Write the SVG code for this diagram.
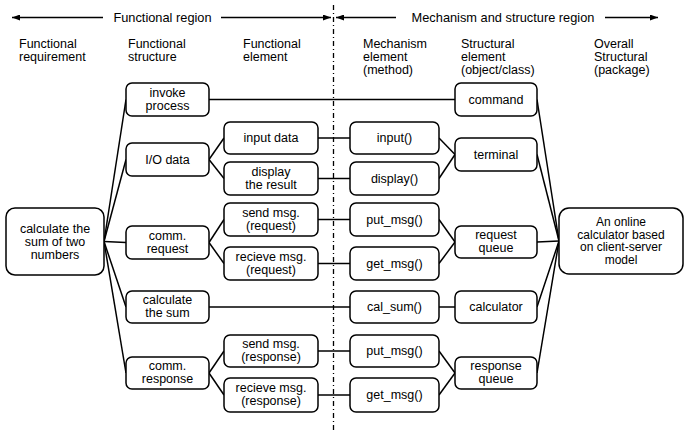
<svg xmlns="http://www.w3.org/2000/svg" width="686" height="432" viewBox="0 0 686 432">
<defs>
<marker id="ah" viewBox="0 0 8 6" refX="8" refY="3" markerWidth="8" markerHeight="6" markerUnits="userSpaceOnUse" orient="auto">
<path d="M0,0 L8,3 L0,6 Z" fill="#000"/>
</marker>
<style>
text{font-family:"Liberation Sans",Arial,sans-serif;font-size:12.5px;fill:#000}
.c{text-anchor:middle}
.n rect{fill:#fff;stroke:#000;stroke-width:1.5}
.l{stroke:#000;stroke-width:1.5;fill:none}
.hd{stroke:#000;stroke-width:1.5;fill:none}
.on{font-size:12px}
</style>
</defs>
<rect width="686" height="432" fill="#fff"/>

<!-- region arrows and separator -->
<g id="regions">
<line class="hd" x1="103" y1="17.5" x2="12" y2="17.5" marker-end="url(#ah)"/>
<line class="hd" x1="221" y1="17.5" x2="331" y2="17.5" marker-end="url(#ah)"/>
<line class="hd" x1="396" y1="17.5" x2="336" y2="17.5" marker-end="url(#ah)"/>
<line class="hd" x1="605" y1="17.5" x2="658" y2="17.5" marker-end="url(#ah)"/>
<text class="c" x="162.5" y="22" style="font-size:12.8px">Functional region</text>
<text class="c" x="503" y="22" style="font-size:12.8px">Mechanism and structure region</text>
<line x1="333.5" y1="5" x2="333.5" y2="432" stroke="#000" stroke-width="1.3" stroke-dasharray="5,3,1,3"/>
</g>

<!-- headers -->
<g id="headers">
<text x="19" y="48">Functional<tspan x="19" dy="13">requirement</tspan></text>
<text x="128" y="48">Functional<tspan x="128" dy="13">structure</tspan></text>
<text x="243" y="48">Functional<tspan x="243" dy="13">element</tspan></text>
<text x="363" y="48">Mechanism<tspan x="363" dy="13">element</tspan><tspan x="363" dy="13">(method)</tspan></text>
<text x="461" y="48">Structural<tspan x="461" dy="13">element</tspan><tspan x="461" dy="13">(object/class)</tspan></text>
<text x="594" y="48">Overall<tspan x="594" dy="13">Structural</tspan><tspan x="594" dy="13">(package)</tspan></text>
</g>

<!-- connectors -->
<g id="connectors" class="l">
<line x1="104" y1="241.5" x2="126" y2="99.5"/>
<line x1="104" y1="241.5" x2="126" y2="159.5"/>
<line x1="104" y1="241.5" x2="126" y2="242.5"/>
<line x1="104" y1="241.5" x2="126" y2="307"/>
<line x1="104" y1="241.5" x2="126" y2="373"/>
<line x1="209" y1="99.5" x2="455" y2="99.5"/>
<line x1="209" y1="159.5" x2="224" y2="138"/>
<line x1="209" y1="159.5" x2="224" y2="178.5"/>
<line x1="209" y1="242.5" x2="224" y2="219.5"/>
<line x1="209" y1="242.5" x2="224" y2="263.5"/>
<line x1="209" y1="307" x2="350" y2="307"/>
<line x1="209" y1="373" x2="224" y2="351"/>
<line x1="209" y1="373" x2="224" y2="395"/>
<line x1="318" y1="138" x2="350" y2="138"/>
<line x1="318" y1="178.5" x2="350" y2="178.5"/>
<line x1="318" y1="219.5" x2="350" y2="219.5"/>
<line x1="318" y1="263.5" x2="350" y2="263.5"/>
<line x1="318" y1="351" x2="350" y2="351"/>
<line x1="318" y1="395" x2="350" y2="395"/>
<line x1="439" y1="138" x2="455" y2="154.5"/>
<line x1="439" y1="178.5" x2="455" y2="154.5"/>
<line x1="439" y1="219.5" x2="455" y2="242"/>
<line x1="439" y1="263.5" x2="455" y2="242"/>
<line x1="439" y1="307" x2="455" y2="307"/>
<line x1="439" y1="351" x2="455" y2="373"/>
<line x1="439" y1="395" x2="455" y2="373"/>
<line x1="537" y1="99.5" x2="559" y2="241"/>
<line x1="537" y1="154.5" x2="559" y2="241"/>
<line x1="537" y1="242" x2="559" y2="241"/>
<line x1="537" y1="307" x2="559" y2="241"/>
<line x1="537" y1="373" x2="559" y2="241"/>
</g>

<!-- nodes -->
<g id="req" class="n"><rect x="6" y="208" width="98" height="67" rx="9"/><text class="c" x="55" y="232.5">calculate the<tspan x="55" dy="13">sum of two</tspan><tspan x="55" dy="13">numbers</tspan></text></g>

<g id="invoke" class="n"><rect x="126" y="83" width="83" height="33" rx="6"/><text class="c" x="167.5" y="96.5">invoke<tspan x="167.5" dy="13">process</tspan></text></g>
<g id="io" class="n"><rect x="126" y="143" width="83" height="33" rx="6"/><text class="c" x="167.5" y="163.5">I/O data</text></g>
<g id="commreq" class="n"><rect x="126" y="226" width="83" height="33" rx="6"/><text class="c" x="167.5" y="239.5">comm.<tspan x="167.5" dy="13">request</tspan></text></g>
<g id="calcsum" class="n"><rect x="126" y="291" width="83" height="32" rx="6"/><text class="c" x="167.5" y="304">calculate<tspan x="167.5" dy="13">the sum</tspan></text></g>
<g id="commresp" class="n"><rect x="126" y="357" width="83" height="32" rx="6"/><text class="c" x="167.5" y="370">comm.<tspan x="167.5" dy="13">response</tspan></text></g>

<g id="inputdata" class="n"><rect x="224" y="122" width="94" height="32" rx="6"/><text class="c" x="271" y="142">input data</text></g>
<g id="display" class="n"><rect x="224" y="162" width="94" height="33" rx="6"/><text class="c" x="271" y="175.5">display<tspan x="271" dy="13">the result</tspan></text></g>
<g id="sendreq" class="n"><rect x="224" y="203" width="94" height="33" rx="6"/><text class="c" x="271" y="216.5">send msg.<tspan x="271" dy="13">(request)</tspan></text></g>
<g id="recvreq" class="n"><rect x="224" y="247" width="94" height="33" rx="6"/><text class="c" x="271" y="260.5">recieve msg.<tspan x="271" dy="13">(request)</tspan></text></g>
<g id="sendresp" class="n"><rect x="224" y="335" width="94" height="32" rx="6"/><text class="c" x="271" y="348">send msg.<tspan x="271" dy="13">(response)</tspan></text></g>
<g id="recvresp" class="n"><rect x="224" y="378" width="94" height="34" rx="6"/><text class="c" x="271" y="392">recieve msg.<tspan x="271" dy="13">(response)</tspan></text></g>

<g id="input" class="n"><rect x="350" y="122" width="89" height="32" rx="6"/><text class="c" x="394.5" y="142">input()</text></g>
<g id="displayfn" class="n"><rect x="350" y="162" width="89" height="33" rx="6"/><text class="c" x="394.5" y="182.5">display()</text></g>
<g id="putreq" class="n"><rect x="350" y="203" width="89" height="33" rx="6"/><text class="c" x="394.5" y="223.5">put_msg()</text></g>
<g id="getreq" class="n"><rect x="350" y="247" width="89" height="33" rx="6"/><text class="c" x="394.5" y="267.5">get_msg()</text></g>
<g id="calsum" class="n"><rect x="350" y="291" width="89" height="32" rx="6"/><text class="c" x="394.5" y="311">cal_sum()</text></g>
<g id="putresp" class="n"><rect x="350" y="335" width="89" height="32" rx="6"/><text class="c" x="394.5" y="355">put_msg()</text></g>
<g id="getresp" class="n"><rect x="350" y="378" width="89" height="34" rx="6"/><text class="c" x="394.5" y="399">get_msg()</text></g>

<g id="command" class="n"><rect x="455" y="83" width="82" height="33" rx="6"/><text class="c" x="496" y="103.5">command</text></g>
<g id="terminal" class="n"><rect x="455" y="138" width="82" height="33" rx="6"/><text class="c" x="496" y="158.5">terminal</text></g>
<g id="requestqueue" class="n"><rect x="455" y="226" width="82" height="32" rx="6"/><text class="c" x="496" y="239">request<tspan x="496" dy="13">queue</tspan></text></g>
<g id="calculator" class="n"><rect x="455" y="291" width="82" height="32" rx="6"/><text class="c" x="496" y="311">calculator</text></g>
<g id="responsequeue" class="n"><rect x="455" y="357" width="82" height="32" rx="6"/><text class="c" x="496" y="370">response<tspan x="496" dy="13">queue</tspan></text></g>

<g id="online" class="n"><rect x="559" y="208" width="124" height="66" rx="10"/><text class="c on" x="621" y="226">An online<tspan x="621" dy="12.5">calculator based</tspan><tspan x="621" dy="12.5">on client-server</tspan><tspan x="621" dy="12.5">model</tspan></text></g>
</svg>
